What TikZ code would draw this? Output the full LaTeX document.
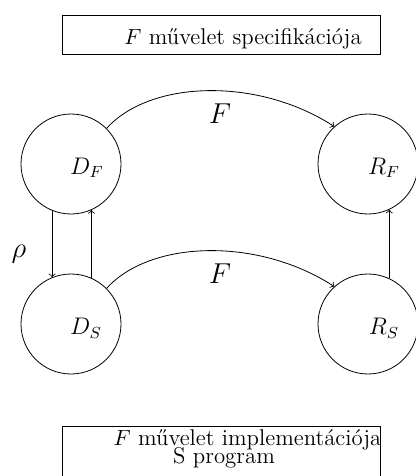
\documentclass[tikz,border=0pt]{standalone}
\begin{document}
\begin{tikzpicture}[x=0.5pt,y=-0.5pt,
  state/.style={circle,draw,minimum size=50pt,inner sep=0pt},
  lbl/.style={inner sep=0pt,font=\large},
  boxlbl/.style={inner sep=0pt,anchor=base,font=\fontsize{11.4}{13}\selectfont},
  arr/.style={->,>=to}]
\useasboundingbox (0,0) rectangle (416,476);
% top box
\node[draw,minimum width=159pt,minimum height=19.5pt,inner sep=0pt] (spec) at (221,34.5) {};
\node[boxlbl] (spectext) at (243,45) {$F$ művelet specifikációja};
% states
\node[state] (DF) at (71,164) {};
\node[state] (RF) at (368,164) {};
\node[state] (DS) at (71,324) {};
\node[state] (RS) at (368,324) {};
\node[lbl] (DFl) at (87,168) {$D_F$};
\node[lbl] (RFl) at (384,168) {$R_F$};
\node[lbl] (DSl) at (86,328) {$D_S$};
\node[lbl] (RSl) at (384,328) {$R_S$};
% curves
\draw[arr] (DF.45) .. controls +(43,-48) and +(-77,-50) .. (RF.132);
\draw[arr] (DS.45) .. controls +(43,-48) and +(-77,-50) .. (RS.132);
\node[inner sep=0pt,font=\Large] (F1) at (220,114) {$F$};
\node[inner sep=0pt,font=\Large] (F2) at (220,274) {$F$};
% verticals
\draw[arr] (DF.248) -- (DS.112);
\draw[arr] (DS.66) -- (DF.294);
\draw[arr] (RS.65) -- (RF.295);
\node[inner sep=0pt,font=\Large] (rho) at (19,254) {$\rho$};
% bottom box (cut off at page bottom)
\coordinate (b1) at (62,476);
\coordinate (b2) at (62,426);
\coordinate (b3) at (380,426);
\coordinate (b4) at (380,476);
\draw (b1) -- (b2) -- (b3) -- (b4);
\node[boxlbl] (impl1) at (247.5,445) {$F$ művelet implementációja};
\node[boxlbl] (impl2) at (224,463) {S program};
\end{tikzpicture}
\end{document}
